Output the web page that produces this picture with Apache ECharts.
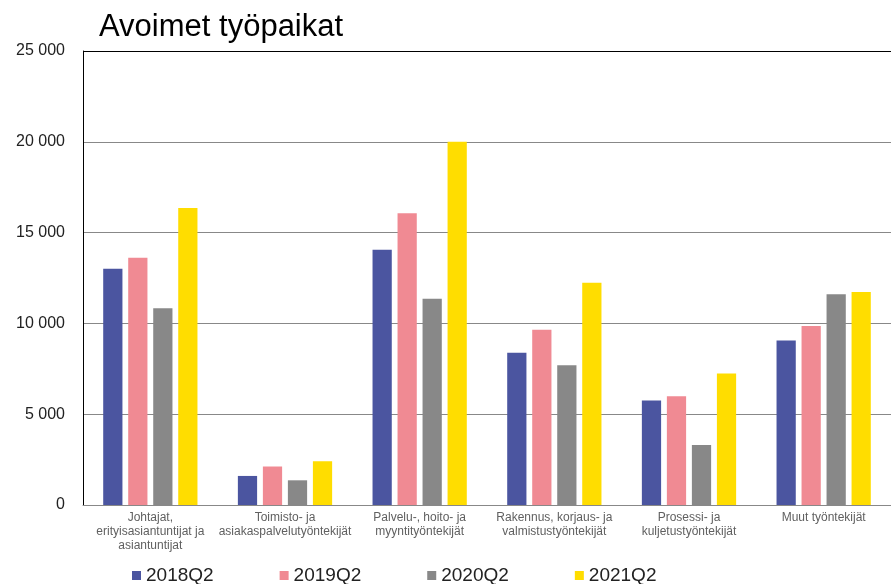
<!DOCTYPE html>
<html>
<head>
<meta charset="utf-8">
<script src="https://cdn.jsdelivr.net/npm/echarts@6/dist/echarts.min.js"></script>
<style>html,body{margin:0;padding:0;background:#fff}#c{width:891px;height:584px}</style>
</head>
<body>
<div id="c"></div>
<script>
var categories = [
  "Johtajat,\nerityisasiantuntijat ja\nasiantuntijat",
  "Toimisto- ja\nasiakaspalvelutyöntekijät",
  "Palvelu-, hoito- ja\nmyyntityöntekijät",
  "Rakennus, korjaus- ja\nvalmistustyöntekijät",
  "Prosessi- ja\nkuljetustyöntekijät",
  "Muut työntekijät"
];
var seriesNames = ["2018Q2", "2019Q2", "2020Q2", "2021Q2"];
var v2018 = [13010, 1600, 14060, 8380, 5760, 9060];
var v2019 = [13620, 2120, 16060, 9650, 5990, 9850];
var v2020 = [10830, 1360, 11360, 7700, 3310, 11600];
var v2021 = [16360, 2410, 20000, 12240, 7240, 11730];
var yTicks = [0, 5000, 10000, 15000, 20000, 25000];
var colors = ["#4B55A0", "#F08A93", "#888888", "#FFDD00"];
var values = [v2018, v2019, v2020, v2021];

var chart = echarts.init(document.getElementById('c'), null, {renderer: 'canvas'});
var font = "Arial, 'Liberation Sans', sans-serif";
chart.setOption({
  animation: false,
  textStyle: {fontFamily: font},
  title: {
    text: "Avoimet työpaikat",
    left: 94, top: 7,
    textStyle: {fontSize: 31, fontWeight: 'normal', color: '#000', fontFamily: font}
  },
  legend: {
    left: 127, top: 561,
    icon: 'rect', itemWidth: 9, itemHeight: 9, itemGap: 66,
    textStyle: {fontSize: 19, color: '#222', padding: [0, 0, 0, 0], fontFamily: font},
    data: seriesNames
  },
  grid: {left: 83, right: 0, top: 51, bottom: 79, containLabel: false},
  xAxis: {
    type: 'category',
    data: categories,
    axisLine: {lineStyle: {color: '#888', width: 1}},
    axisTick: {show: false},
    axisLabel: {interval: 0, fontSize: 12, color: '#606060', lineHeight: 14, margin: 6, fontFamily: font}
  },
  yAxis: {
    type: 'value', min: 0, max: 25000, interval: 5000,
    axisLine: {show: true, lineStyle: {color: '#000', width: 1}},
    axisTick: {show: false},
    splitLine: {lineStyle: {color: ['#888', '#888', '#888', '#888', '#888', '#000'], width: 1}},
    axisLabel: {
      fontSize: 16, color: '#222', margin: 18, fontFamily: font,
      formatter: function (v) {
        return String(v).replace(/\B(?=(\d{3})+(?!\d))/g, ' ');
      }
    }
  },
  series: seriesNames.map(function (n, i) {
    return {
      name: n, type: 'bar', data: values[i],
      barGap: '30%', barCategoryGap: '30%',
      itemStyle: {color: colors[i]}
    };
  })
});
</script>
</body>
</html>
